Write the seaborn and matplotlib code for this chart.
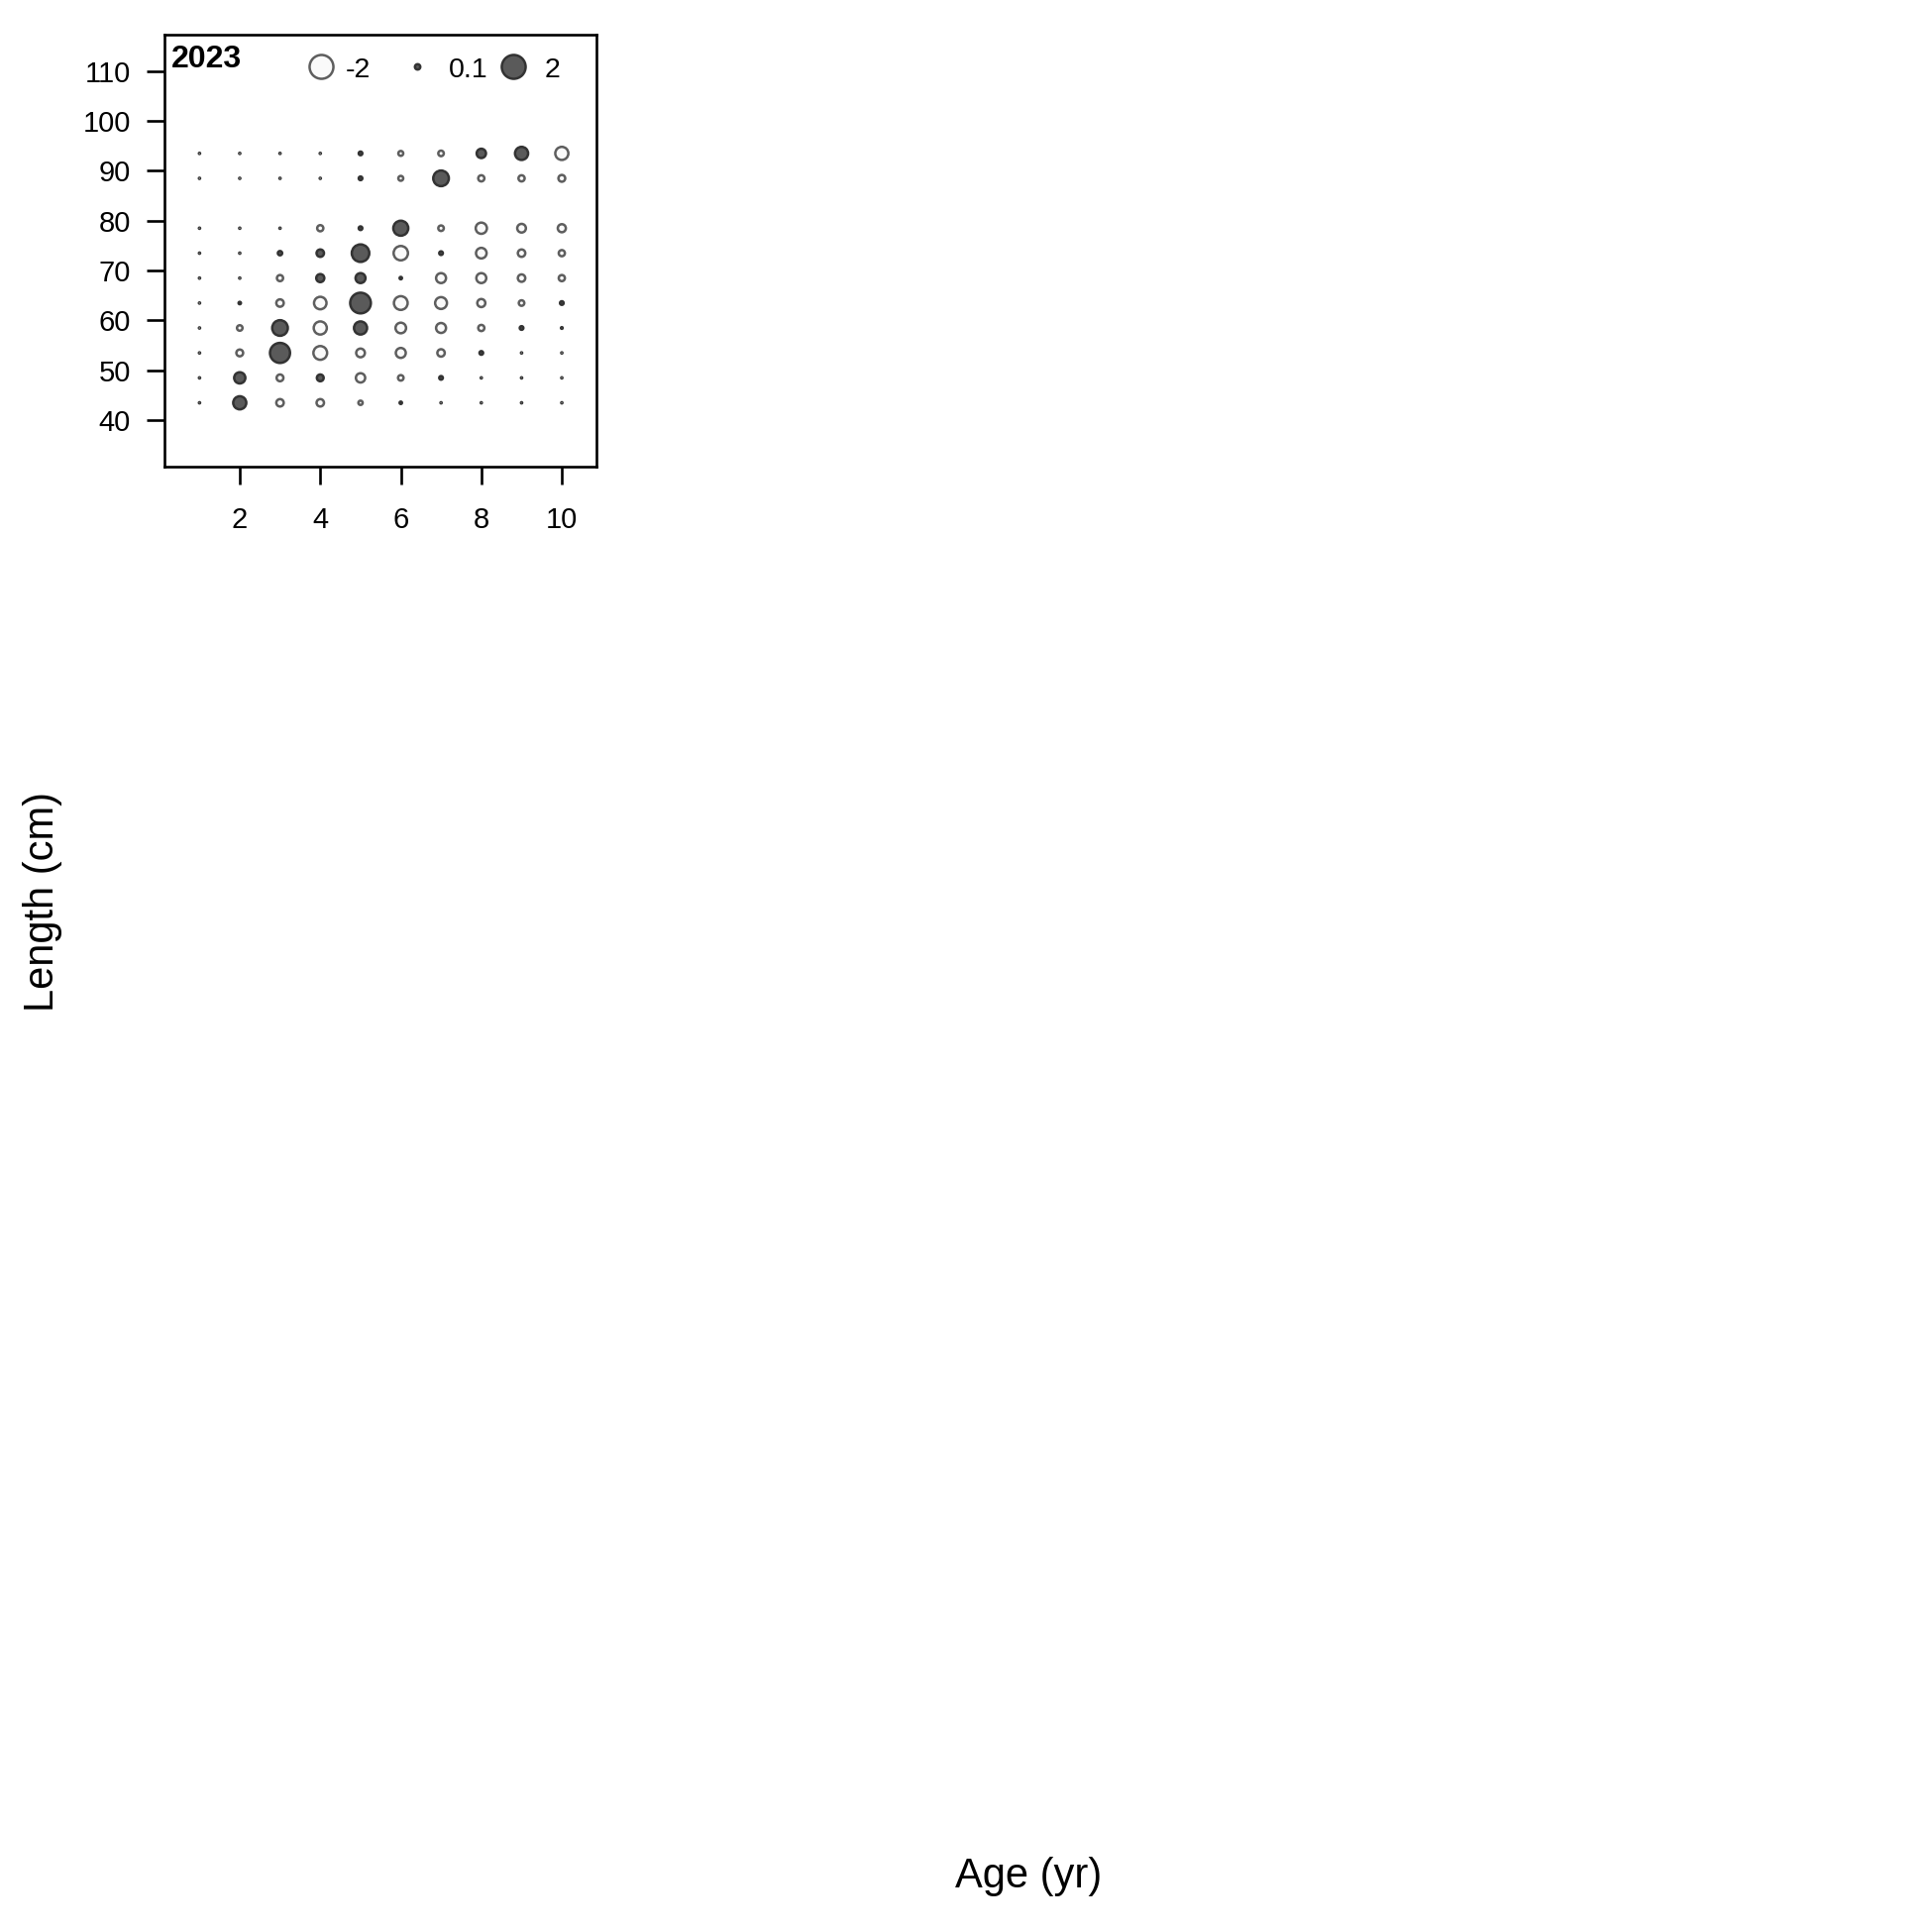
import numpy as np
import pandas as pd
import matplotlib
matplotlib.use("Agg")
import matplotlib.pyplot as plt
import seaborn as sns

# ---- data ----
ages = [1, 2, 3, 4, 5, 6, 7, 8, 9, 10]
lengths = [93.5, 88.5, 78.5, 73.5, 68.5, 63.5, 58.5, 53.5, 48.5, 43.5]
resid_93 = [0.005, 0.005, 0.005, 0.005, 0.046, -0.084, -0.107, 0.304, 0.603, -0.603]
resid_88 = [0.005, 0.005, 0.005, 0.005, 0.046, -0.084, 0.857, -0.133, -0.133, -0.162]
resid_78 = [0.005, 0.005, 0.005, -0.133, 0.046, 0.789, -0.107, -0.441, -0.265, -0.228]
resid_73 = [0.005, 0.005, 0.064, 0.193, 1.078, -0.724, 0.046, -0.393, -0.193, -0.133]
resid_68 = [0.005, 0.005, -0.133, 0.228, 0.347, 0.02, -0.347, -0.347, -0.193, -0.133]
resid_63 = [0.005, 0.02, -0.193, -0.546, 1.5, -0.662, -0.492, -0.228, -0.107, 0.046]
resid_58 = [0.005, -0.107, 0.857, -0.603, 0.603, -0.393, -0.347, -0.133, 0.046, 0.01]
resid_53 = [0.005, -0.162, 1.41, -0.662, -0.265, -0.347, -0.193, 0.046, 0.005, 0.005]
resid_48 = [0.005, 0.441, -0.162, 0.162, -0.304, -0.107, 0.046, 0.005, 0.005, 0.005]
resid_43 = [0.005, 0.603, -0.193, -0.193, -0.064, 0.02, 0.005, 0.005, 0.005, 0.005]
year_label = "2023"
legend_values = [-2, 0.1, 2]
legend_labels = ["-2", "0.1", "2"]
x_ticks = [2, 4, 6, 8, 10]
y_ticks = [40, 50, 60, 70, 80, 90, 100, 110]

rows = [resid_93, resid_88, resid_78, resid_73, resid_68,
        resid_63, resid_58, resid_53, resid_48, resid_43]
records = []
for L, r in zip(lengths, rows):
    for a, v in zip(ages, r):
        records.append({"age": a, "length": L, "resid": v, "absr": abs(v)})
df = pd.DataFrame(records)

# ---- style ----
sns.set_style("white")
plt.rcParams["font.family"] = ["Liberation Sans", "DejaVu Sans"]
plt.rcParams["text.color"] = "black"
plt.rcParams["xtick.color"] = "black"
plt.rcParams["ytick.color"] = "black"

DPI = 100
fig = plt.figure(figsize=(19.5, 19.5), dpi=DPI)
ax = fig.add_axes([166 / 1950, 1 - 471 / 1950, 436 / 1950, 436 / 1950])

SMAX = 300.0  # marker area (pt^2) for |resid| = 2
LW = 1.8
FILL_POS = "#5a5a5a"
EDGE_POS = "#333333"
FILL_NEG = "#fafafa"
EDGE_NEG = "#5e5e5e"

pos = df[df["resid"] >= 0]
neg = df[df["resid"] < 0]
sns.scatterplot(data=neg, x="age", y="length", size="absr", sizes=(0, SMAX),
                size_norm=(0, 2), color=FILL_NEG, edgecolor=EDGE_NEG,
                linewidth=LW, legend=False, ax=ax, zorder=3)
sns.scatterplot(data=pos, x="age", y="length", size="absr", sizes=(0, SMAX),
                size_norm=(0, 2), color=FILL_POS, edgecolor=EDGE_POS,
                linewidth=LW, legend=False, ax=ax, zorder=3)

ax.set_xlim(0.13, 10.86)
ax.set_ylim(30.7, 117.3)
ax.set_xticks(x_ticks)
ax.set_yticks(y_ticks)
ax.set_xlabel("")
ax.set_ylabel("")
for s in ax.spines.values():
    s.set_visible(True)
    s.set_color("black")
    s.set_linewidth(1.9)
ax.tick_params(axis="both", which="major", direction="out", length=13,
               width=1.9, color="black", labelsize=21, labelcolor="black")
ax.tick_params(axis="x", pad=15.5, bottom=True)
ax.tick_params(axis="y", pad=11.5, left=True)

# year label
ax.text(0.016, 0.924, year_label, transform=ax.transAxes, fontsize=23,
        fontweight="bold", ha="left", va="baseline", color="black")

# manual legend (bubble keys)
key_x = [0.362, 0.585, 0.807]
txt_x = [0.420, 0.658, 0.881]
for v, lab, kx, tx in zip(legend_values, legend_labels, key_x, txt_x):
    fc, ec = (FILL_POS, EDGE_POS) if v > 0 else (FILL_NEG, EDGE_NEG)
    ax.scatter([kx], [0.927], s=SMAX * abs(v) / 2.0, facecolor=fc,
               edgecolor=ec, linewidth=LW, transform=ax.transAxes,
               clip_on=False, zorder=4)
    ax.text(tx, 0.901, lab, transform=ax.transAxes, fontsize=20.5,
            ha="left", va="baseline", color="black")

fig.text(1038 / 1950, 1 - 1894 / 1950, "Age (yr)", fontsize=30,
         ha="center", va="center", color="black")
fig.text(43.5 / 1950, 1 - 910 / 1950, "Length (cm)", fontsize=30,
         ha="center", va="center", rotation=90, color="black")

fig.savefig("out.png", dpi=DPI, facecolor="white")
